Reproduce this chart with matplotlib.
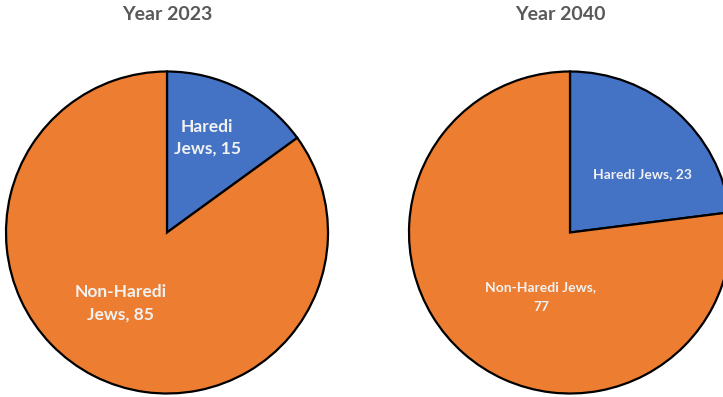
import matplotlib
matplotlib.use("Agg")
import matplotlib.pyplot as plt

groups = ["Haredi Jews", "Non-Haredi Jews"]
share_2023 = [15, 85]
share_2040 = [23, 77]
years = ["Year 2023", "Year 2040"]

colors = ["#4472C4", "#ED7D31"]
plt.rcParams['font.family'] = ['Lato', 'DejaVu Sans']

W, H = 723, 397
fig = plt.figure(figsize=(W / 100, H / 100), dpi=100)


def pie_axes(cx, cy, r):
    # axes box in pixels around a pie of radius r centred at (cx, cy)
    return fig.add_axes([(cx - r) / W, (H - cy - r) / H, 2 * r / W, 2 * r / H])


def draw(ax, values, label_text, label_pos, size, spacing):
    wedges, _ = ax.pie(values, colors=colors, startangle=90, counterclock=False,
                       radius=1, wedgeprops=dict(edgecolor="black", linewidth=1.6))
    for w in wedges:
        w.set_clip_on(False)
    for txt, (x, y) in zip(label_text, label_pos):
        ax.text(x, y, txt, ha="center", va="center", color="#F2F2F2",
                fontsize=size, fontweight="bold", linespacing=spacing)
    ax.set_xlim(-1, 1)
    ax.set_ylim(-1, 1)
    ax.set_aspect("equal")
    ax.axis("off")


ax1 = pie_axes(167, 232.5, 161)
draw(ax1, share_2023,
     [f"Haredi\nJews, {share_2023[0]}", f"Non-Haredi\nJews, {share_2023[1]}"],
     [(0.25, 0.59), (-0.29, -0.44)], 12.5, 1.45)

ax2 = pie_axes(570, 232.5, 161)
draw(ax2, share_2040,
     [f"{groups[0]}, {share_2040[0]}", f"{groups[1]},\n{share_2040[1]}"],
     [(0.45, 0.365), (-0.18, -0.40)], 10, 1.8)

fig.text(167 / W, 1 - 15 / H, years[0], ha="center", va="center",
         fontsize=14, fontweight="bold", color="#595959")
fig.text(560 / W, 1 - 15 / H, years[1], ha="center", va="center",
         fontsize=14, fontweight="bold", color="#595959")

fig.savefig("out.png", dpi=100, facecolor="white")
